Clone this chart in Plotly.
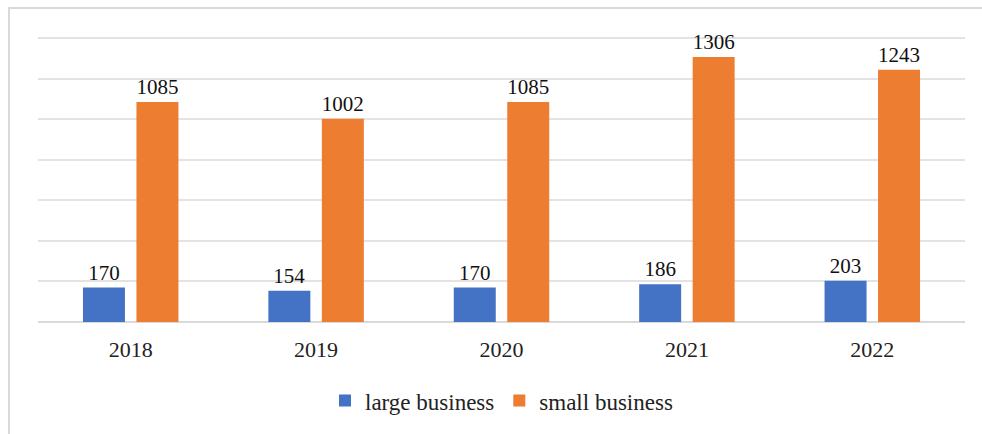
import plotly.graph_objects as go

years = ["2018", "2019", "2020", "2021", "2022"]
large_business = [170, 154, 170, 186, 203]
small_business = [1085, 1002, 1085, 1306, 1243]

BLUE = "#4472C4"
ORANGE = "#ED7D31"
FONT = "Times New Roman, Liberation Serif, DejaVu Serif, serif"

fig = go.Figure()
fig.add_trace(go.Bar(
    x=years, y=large_business, name="large business",
    marker=dict(color=BLUE, line=dict(width=0)),
    text=[str(v) for v in large_business], textposition="outside",
    textfont=dict(family=FONT, size=21, color="#111111"),
    constraintext="none", cliponaxis=False,
))
fig.add_trace(go.Bar(
    x=years, y=small_business, name="small business",
    marker=dict(color=ORANGE, line=dict(width=0)),
    text=[str(v) for v in small_business], textposition="outside",
    textfont=dict(family=FONT, size=21, color="#111111"),
    constraintext="none", cliponaxis=False,
))

# light frame around the chart area
fig.add_shape(type="rect", xref="paper", yref="paper",
              x0=-0.0313, x1=1.2, y0=-0.5, y1=1.0979,
              line=dict(color="#D9D9D9", width=2), layer="below")

fig.update_layout(
    width=982, height=434,
    margin=dict(l=38, r=17, t=36, b=112),
    paper_bgcolor="white", plot_bgcolor="white",
    barmode="group", bargap=0.423, bargroupgap=0.215,
    font=dict(family=FONT, size=22, color="#222222"),
    showlegend=True,
    legend=dict(orientation="h", x=0.5, xanchor="center", y=-0.275, yanchor="middle",
                font=dict(family=FONT, size=23, color="#222222"),
                itemwidth=30, traceorder="normal"),
)
fig.update_xaxes(showgrid=False, showline=False, ticks="", ticklabelstandoff=12,
                 tickfont=dict(family=FONT, size=22, color="#222222"))
fig.update_yaxes(range=[0, 1410], dtick=200, showgrid=True, gridcolor="#E3E3E3", gridwidth=1.5,
                 showticklabels=False, zeroline=True, zerolinecolor="#D9D9D9", zerolinewidth=1.5,
                 showline=False, ticks="")

fig.write_html("out.html")
